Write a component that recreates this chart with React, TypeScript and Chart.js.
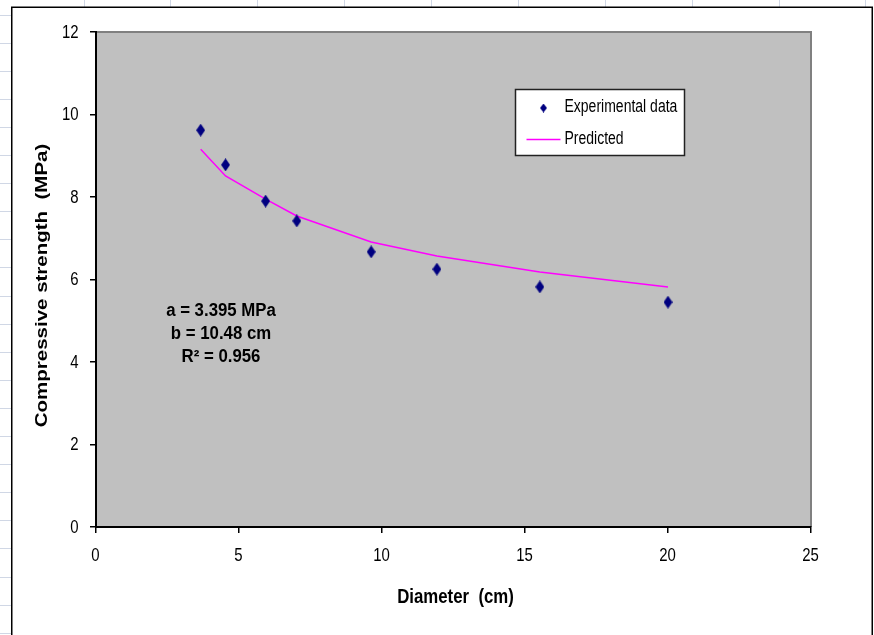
import React, { useEffect, useRef } from 'react';
import { Chart, registerables } from 'chart.js';

Chart.register(...registerables);

// ---- data ----
const diameters = [3.66, 4.53, 5.93, 7.02, 9.62, 11.92, 15.52, 20.0];
const experimental = [9.62, 8.78, 7.9, 7.42, 6.67, 6.25, 5.82, 5.45];
const predicted = [9.16, 8.51, 7.95, 7.54, 6.91, 6.57, 6.18, 5.82];
const xTicks = [0, 5, 10, 15, 20, 25];
const yTicks = [0, 2, 4, 6, 8, 10, 12];
const seriesLabels = ['Experimental data', 'Predicted'];
const annotationLines = ['a = 3.395 MPa', 'b = 10.48 cm', 'R\u00B2 = 0.956'];
const xTitle = 'Diameter  (cm)';
const yTitle = 'Compressive strength  (MPa)';

const SANS = "'Liberation Sans', Arial, sans-serif";
const MARKER = '#000080';
const LINE = '#FF00FF';

function makeDiamond(w: number, h: number, color: string) {
  const c = document.createElement('canvas');
  c.width = w;
  c.height = h;
  const g = c.getContext('2d')!;
  g.fillStyle = color;
  g.beginPath();
  g.moveTo(w / 2, 0);
  g.lineTo(w, h / 2);
  g.lineTo(w / 2, h);
  g.lineTo(0, h / 2);
  g.closePath();
  g.fill();
  return c;
}

// draws text squeezed (mimics the narrow face of the original)
function narrowText(
  ctx: CanvasRenderingContext2D,
  text: string,
  x: number,
  y: number,
  font: string,
  align: CanvasTextAlign,
  baseline: CanvasTextBaseline,
  sx: number,
  rotate = 0,
  sy = 1
) {
  ctx.save();
  ctx.translate(x, y);
  if (rotate) ctx.rotate(rotate);
  ctx.scale(sx, sy);
  ctx.font = font;
  ctx.textAlign = align;
  ctx.textBaseline = baseline;
  ctx.fillStyle = '#000000';
  ctx.fillText(text, 0, 0);
  ctx.restore();
}

const backgroundPlugin = {
  id: 'sheetBackground',
  beforeDraw(chart: any) {
    const { ctx, width, height, chartArea: a } = chart;
    ctx.save();
    ctx.fillStyle = '#ffffff';
    ctx.fillRect(0, 0, width, height);
    // spreadsheet cell lines around the embedded chart
    ctx.strokeStyle = '#D0D7E5';
    ctx.lineWidth = 1;
    for (let y = 14.5; y < height; y += 28.1) {
      ctx.beginPath();
      ctx.moveTo(0, Math.round(y) + 0.5);
      ctx.lineTo(11, Math.round(y) + 0.5);
      ctx.stroke();
    }
    const cols = [84, 170, 257, 344, 431, 518, 605, 692, 779, 865];
    cols.forEach((x) => {
      ctx.beginPath();
      ctx.moveTo(x + 0.5, 0);
      ctx.lineTo(x + 0.5, 7);
      ctx.stroke();
    });
    // chart frame
    ctx.fillStyle = '#ffffff';
    ctx.fillRect(11, 7, 862, height);
    ctx.strokeStyle = '#000000';
    ctx.lineWidth = 1.5;
    ctx.strokeRect(11.75, 7.25, 860.5, height + 20);
    // plot area
    ctx.fillStyle = '#C0C0C0';
    ctx.fillRect(a.left, a.top, a.right - a.left, a.bottom - a.top);
    ctx.strokeStyle = '#808080';
    ctx.lineWidth = 2;
    ctx.beginPath();
    ctx.moveTo(a.left, a.top);
    ctx.lineTo(a.right, a.top);
    ctx.lineTo(a.right, a.bottom);
    ctx.stroke();
    ctx.restore();
  },
};

const overlayPlugin = {
  id: 'overlay',
  afterDraw(chart: any) {
    const { ctx, chartArea: a, scales } = chart;
    const ds = chart.data.datasets;
    ctx.save();
    // tick labels
    const tickFont = `18px ${SANS}`;
    scales.y.ticks.forEach((t: any) => {
      const py = scales.y.getPixelForValue(t.value);
      narrowText(ctx, String(t.label), a.left - 17.5, py + 1, tickFont, 'right', 'middle', 0.83);
    });
    scales.x.ticks.forEach((t: any) => {
      const px = scales.x.getPixelForValue(t.value);
      narrowText(ctx, String(t.label), px - 0.5, a.bottom + 34, tickFont, 'center', 'alphabetic', 0.83);
    });
    // axis titles
    narrowText(ctx, xTitle, (a.left + a.right) / 2 + 2, a.bottom + 70, `bold 20px ${SANS}`, 'center', 'middle', 0.84);
    narrowText(ctx, yTitle, 42.5, (a.top + a.bottom) / 2 + 6, `bold 20.5px ${SANS}`, 'center', 'middle', 1, -Math.PI / 2, 0.83);

    // legend box
    const lx = a.left + 419.5;
    const ly = a.top + 57.5;
    ctx.fillStyle = '#ffffff';
    ctx.fillRect(lx, ly, 169, 66);
    ctx.strokeStyle = '#222222';
    ctx.lineWidth = 1.5;
    ctx.strokeRect(lx, ly, 169, 66);
    const legFont = `17.5px ${SANS}`;
    // entry 1
    const mk = makeDiamond(7, 9, ds[0].backgroundColor);
    ctx.drawImage(mk, lx + 28 - 3.5, ly + 18.5 - 4.5);
    narrowText(ctx, ds[0].label, lx + 49, ly + 18, legFont, 'left', 'middle', 0.8);
    // entry 2
    ctx.strokeStyle = ds[1].borderColor;
    ctx.lineWidth = 1.5;
    ctx.beginPath();
    ctx.moveTo(lx + 11, ly + 50);
    ctx.lineTo(lx + 45, ly + 50);
    ctx.stroke();
    narrowText(ctx, ds[1].label, lx + 49, ly + 50, legFont, 'left', 'middle', 0.8);
    // fit parameters
    const cx = a.left + 125;
    annotationLines.forEach((t, i) => {
      narrowText(ctx, t, cx, a.top + 284 + i * 23, `bold 17.5px ${SANS}`, 'center', 'alphabetic', 0.96);
    });
    ctx.restore();
  },
};

export default function App() {
  const ref = useRef<HTMLCanvasElement>(null);
  useEffect(() => {
    if (!ref.current) return;
    const diamond = makeDiamond(9, 13, MARKER);
    const chart = new Chart(ref.current, {
      type: 'scatter',
      data: {
        datasets: [
          {
            label: seriesLabels[0],
            data: diameters.map((x, i) => ({ x, y: experimental[i] })),
            pointStyle: diamond as any,
            pointRadius: 6,
            backgroundColor: MARKER,
            borderColor: MARKER,
            showLine: false,
            order: 0,
          },
          {
            label: seriesLabels[1],
            data: diameters.map((x, i) => ({ x, y: predicted[i] })),
            showLine: true,
            borderColor: LINE,
            backgroundColor: LINE,
            borderWidth: 1.5,
            pointRadius: 0,
            tension: 0,
            order: 1,
          },
        ],
      },
      options: {
        responsive: false,
        animation: false,
        events: [],
        layout: { padding: { top: 32, right: 63, bottom: 0, left: 0 } },
        plugins: {
          legend: { display: false },
          tooltip: { enabled: false },
          title: { display: false },
        },
        scales: {
          x: {
            type: 'linear',
            min: xTicks[0],
            max: xTicks[xTicks.length - 1],
            ticks: { stepSize: xTicks[1] - xTicks[0], display: false },
            grid: { drawOnChartArea: false, drawTicks: true, tickLength: 6, color: '#000', lineWidth: 1.5 },
            border: { display: true, color: '#000', width: 2 },
            title: { display: false },
            afterFit: (s: any) => {
              s.height = 108;
            },
          },
          y: {
            type: 'linear',
            min: yTicks[0],
            max: yTicks[yTicks.length - 1],
            ticks: { stepSize: yTicks[1] - yTicks[0], display: false },
            grid: { drawOnChartArea: false, drawTicks: true, tickLength: 6, color: '#000', lineWidth: 1.5 },
            border: { display: true, color: '#000', width: 2 },
            title: { display: false },
            afterFit: (s: any) => {
              s.width = 96;
            },
          },
        },
      },
      plugins: [backgroundPlugin, overlayPlugin],
    });
    return () => chart.destroy();
  }, []);
  return (
    <div style={{ position: 'fixed', left: 0, top: 0, width: 874, height: 635 }}>
      <canvas ref={ref} width={874} height={635} />
    </div>
  );
}
